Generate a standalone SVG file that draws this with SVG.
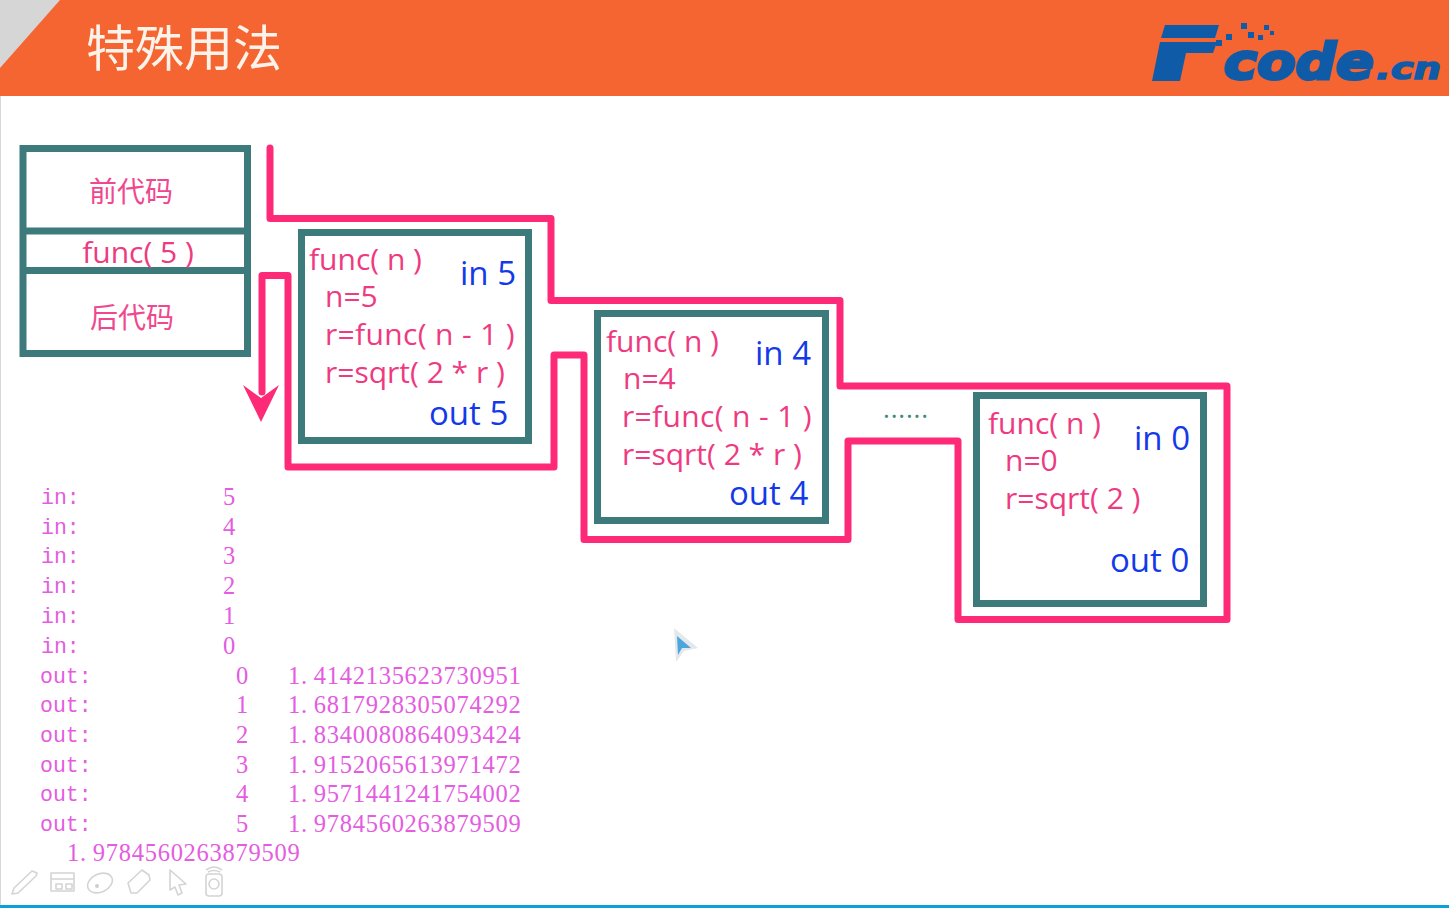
<svg xmlns="http://www.w3.org/2000/svg" width="1449" height="908" viewBox="0 0 1449 908">
<style>
.box{fill:none;stroke:#3d7a7c;stroke-width:7}
.conn{fill:none;stroke:#fe2a78;stroke-width:7;stroke-linejoin:round;stroke-linecap:round}
.p{font-family:"Open Sans","Noto Sans CJK SC",sans-serif;font-size:30px;fill:#ee3a80}
.w{letter-spacing:.35px}
.b{font-family:"Open Sans","Noto Sans CJK SC",sans-serif;font-size:33px;fill:#1339e8}
.c{font-family:"Noto Sans CJK SC",sans-serif;font-size:28px;fill:#f0488e}
.m{font-family:"Liberation Serif",serif;font-size:24.500px;fill:#e45ce0;letter-spacing:.72px}
.l{font-family:"Liberation Mono",monospace;font-size:21.500px;fill:#e45ce0}
.ic{fill:none;stroke:#d4d4d4;stroke-width:1.600;stroke-linejoin:round}
.logo{font-family:"DejaVu Sans",sans-serif;font-weight:700;font-style:italic;fill:#0f5ba8}
</style>
<rect width="1449" height="908" fill="#fff"/>
<g id="header">
<rect width="1449" height="96" fill="#f46531"/>
<polygon points="0,0 60,0 0,68" fill="#d6d6d6"/>
<text x="86" y="66" font-family="'Noto Sans CJK SC',sans-serif" font-size="49" fill="#fdf3ea">特殊用法</text>
</g>
<g id="logo">
<polygon points="1165,25 1219,25 1215,38 1161,38" fill="#0f5ba8"/>
<polygon points="1160,42 1217,42 1213,53 1186,53 1180,81 1152,81" fill="#0f5ba8"/>
<g fill="#0f5ba8"><rect x="1226" y="34" width="6" height="6"/><rect x="1241" y="23" width="6" height="6"/><rect x="1248" y="32" width="6" height="6"/><rect x="1258" y="35" width="5" height="5"/><rect x="1264" y="25" width="5" height="5"/><rect x="1270" y="31" width="4" height="4"/><rect x="1216" y="40" width="6" height="6"/></g>
<text class="logo" x="1224" y="79" font-size="50" textLength="150" lengthAdjust="spacingAndGlyphs" stroke="#0f5ba8" stroke-width="3">code</text>
<text class="logo" x="1376" y="79" font-size="30" textLength="65" lengthAdjust="spacingAndGlyphs" stroke="#0f5ba8" stroke-width="1.500">.cn</text>
</g>
<g id="connectors">
<path class="conn" d="M270,148V218.500H551V300.500H840V386H1227V619.500H958V441H848V539.500H584V355H554V467H288V275.500H262V392"/>
<polygon points="243,385 261,398 279,385 261,422" fill="#fe2a78"/>
</g>
<g id="stack">
<rect class="box" x="23" y="148.500" width="224.500" height="205"/>
<path class="box" d="M23,231H247M23,270.500H247"/>
<text class="c" x="131" y="202" text-anchor="middle">前代码</text>
<text class="p" x="138" y="263" text-anchor="middle">func( 5 )</text>
<text class="c" x="132" y="328" text-anchor="middle">后代码</text>
</g>
<g id="frame-5">
<rect class="box" x="301.500" y="232.500" width="227" height="208"/>
<text class="p" x="309" y="270">func( n )</text>
<text class="b" x="460" y="285">in 5</text>
<text class="p" x="325" y="307">n=5</text>
<text class="p w" x="325" y="345">r=func( n - 1 )</text>
<text class="p" x="325" y="383">r=sqrt( 2 * r )</text>
<text class="b" x="429" y="425">out 5</text>
</g>
<g id="frame-4">
<rect class="box" x="597.500" y="313.500" width="228" height="207"/>
<text class="p" x="606" y="352">func( n )</text>
<text class="b" x="755" y="365">in 4</text>
<text class="p" x="623" y="389">n=4</text>
<text class="p w" x="622" y="427">r=func( n - 1 )</text>
<text class="p" x="622" y="465">r=sqrt( 2 * r )</text>
<text class="b" x="729" y="505">out 4</text>
</g>
<text x="883" y="418" font-family="'Open Sans',sans-serif" font-size="26" fill="#3d8a7c" letter-spacing="0.800">......</text>
<g id="frame-0">
<rect class="box" x="976.500" y="395.500" width="227" height="208"/>
<text class="p" x="988" y="434">func( n )</text>
<text class="b" x="1134" y="450">in 0</text>
<text class="p" x="1005" y="471">n=0</text>
<text class="p" x="1005" y="509">r=sqrt( 2 )</text>
<text class="b" x="1110" y="572">out 0</text>
</g>
<g id="console">
<text class="l" x="41" y="504">in:</text><text class="m" x="223" y="505">5</text>
<text class="l" x="41" y="534">in:</text><text class="m" x="223" y="535">4</text>
<text class="l" x="41" y="563">in:</text><text class="m" x="223" y="564">3</text>
<text class="l" x="41" y="593">in:</text><text class="m" x="223" y="594">2</text>
<text class="l" x="41" y="623">in:</text><text class="m" x="223" y="624">1</text>
<text class="l" x="41" y="653">in:</text><text class="m" x="223" y="654">0</text>
<text class="l" x="40" y="683">out:</text><text class="m" x="236" y="684">0</text><text class="m" x="288" y="684">1.<tspan dx="6">4142135623730951</tspan></text>
<text class="l" x="40" y="712">out:</text><text class="m" x="236" y="713">1</text><text class="m" x="288" y="713">1.<tspan dx="6">6817928305074292</tspan></text>
<text class="l" x="40" y="742">out:</text><text class="m" x="236" y="743">2</text><text class="m" x="288" y="743">1.<tspan dx="6">8340080864093424</tspan></text>
<text class="l" x="40" y="772">out:</text><text class="m" x="236" y="773">3</text><text class="m" x="288" y="773">1.<tspan dx="6">9152065613971472</tspan></text>
<text class="l" x="40" y="801">out:</text><text class="m" x="236" y="802">4</text><text class="m" x="288" y="802">1.<tspan dx="6">9571441241754002</tspan></text>
<text class="l" x="40" y="831">out:</text><text class="m" x="236" y="832">5</text><text class="m" x="288" y="832">1.<tspan dx="6">9784560263879509</tspan></text>
<text class="m" x="67" y="861">1.<tspan dx="6">9784560263879509</tspan></text>
</g>
<g id="cursor">
<polygon points="674,628 698,648 684,651 676,662" fill="#e4e8ea"/>
<polygon points="677,636 691,648 682,648 678,655" fill="#4aa6de"/>
</g>
<g id="toolbar">
<path class="ic" d="M14,888L32,871L37,873L36,876L18,893L12,894Z"/>
<path class="ic" d="M51,873H74V891H51ZM51,879H74M56,884H62V889H56ZM66,884H72V889H66Z"/>
<ellipse class="ic" cx="100" cy="883" rx="13" ry="9" transform="rotate(-25 100 883)"/>
<circle cx="97" cy="886" r="2" fill="#cfcfcf"/>
<path class="ic" d="M128,883L142,870L149,875L150,880L137,893L131,893Z"/>
<path class="ic" d="M170,870L186,884L179,885L182,893L178,895L175,887L170,890Z"/>
<rect class="ic" x="206" y="874" width="16" height="22" rx="3"/>
<circle class="ic" cx="214" cy="884" r="5"/>
<path class="ic" d="M206,870Q214,864 222,870M208,872Q214,869 220,872"/>
</g>
<rect id="left-edge" x="0" y="96" width="1" height="812" fill="#d8d8d8"/>
<rect id="bottom-bar" y="905" width="1449" height="3" fill="#0aa0d8"/>
</svg>
